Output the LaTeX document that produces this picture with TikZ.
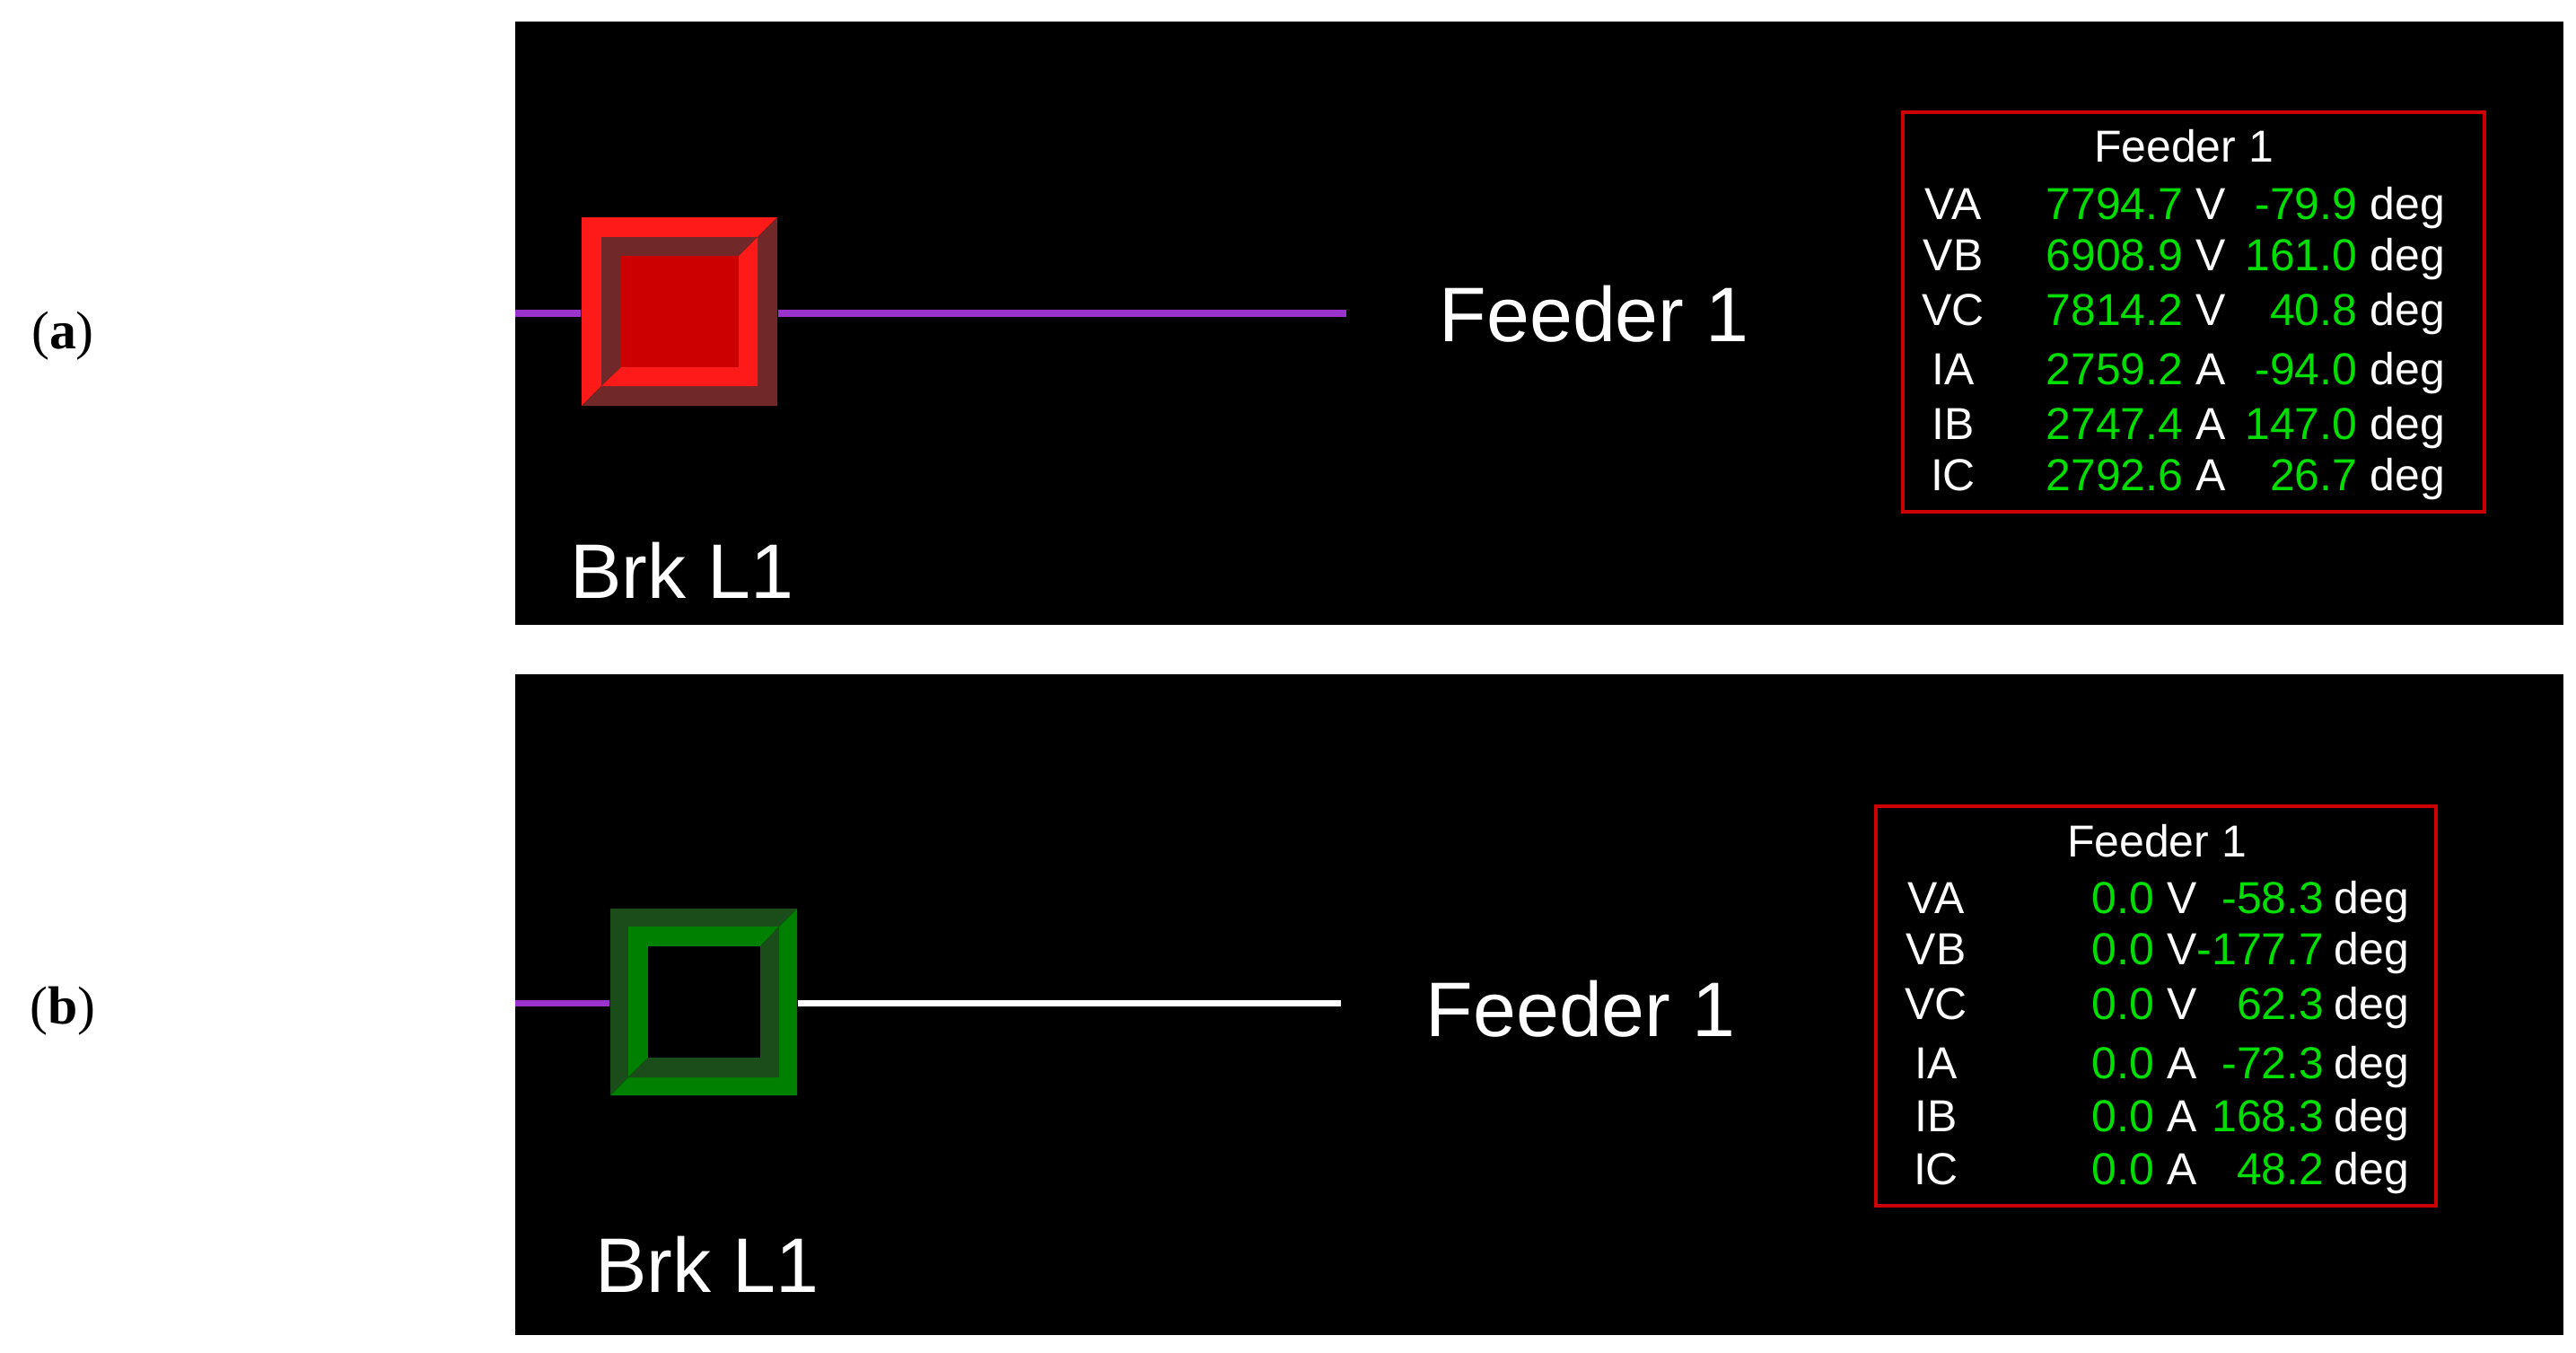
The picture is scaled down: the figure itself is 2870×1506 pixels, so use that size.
\documentclass[tikz,border=0pt]{standalone}
\usepackage{fontspec}
\setmainfont{Liberation Sans}
\newfontfamily\serifff{Liberation Serif}
\usetikzlibrary{calc}
\definecolor{purp}{HTML}{9933CC}
\definecolor{bred}{HTML}{FF1A1A}
\definecolor{dred}{HTML}{702828}
\definecolor{mred}{HTML}{CC0000}
\definecolor{bgrn}{HTML}{008000}
\definecolor{dgrn}{HTML}{1A4D1A}
\definecolor{vgrn}{HTML}{00DD00}
\begin{document}
\begin{tikzpicture}[x=0.01cm,y=-0.01cm,
  big/.style={text=white,font=\fontsize{24.5}{26}\selectfont,inner sep=0},
  tt/.style={font=\fontsize{14.2}{16}\selectfont,inner sep=0,text height=0.72em,text depth=0.2em,yshift=-2pt},
  lab/.style={tt,text=white},
  num/.style={tt,text=vgrn,anchor=east},
  unit/.style={tt,text=white,anchor=west},
  tbox/.style={draw=mred,line width=1.2pt},
  wire/.style={line width=2pt}]
\useasboundingbox (0,0) rectangle (2870,1506);
\fill[white] (0,0) rectangle (2870,1506);
\fill[black] (574,24) rectangle (2856,696);
\fill[black] (574,751) rectangle (2856,1487);
\node[font=\serifff\fontsize{17}{19}\selectfont] (la) at (70,374) {(\textbf{a})};
\node[font=\serifff\fontsize{17}{19}\selectfont] (lb) at (70,1126) {(\textbf{b})};

% ---------- panel a ----------
\coordinate (wa0) at (574,349);
\coordinate (wa1) at (1500,349);
\node[inner sep=0,minimum width=62pt,minimum height=59.7pt] (ba) at (757,347) {};
\draw[purp,wire] (wa0) -- (ba.west|-wa0);
\draw[purp,wire] (ba.east|-wa0) -- (wa1);
\fill[bred] (648,452) -- (648,242) -- (866,242) -- (844,264) -- (670,264) -- (670,430) -- cycle;
\fill[dred] (648,452) -- (866,452) -- (866,242) -- (844,264) -- (844,430) -- (670,430) -- cycle;
\fill[dred] (670,430) -- (670,264) -- (844,264) -- (823,285) -- (692,285) -- (692,409) -- cycle;
\fill[bred] (670,430) -- (844,430) -- (844,264) -- (823,285) -- (823,409) -- (692,409) -- cycle;
\fill[mred] (692,285) rectangle (823,409);
\node[big] (fa) at (1776,350) {Feeder 1};
\node[big] (brka) at (760,635) {Brk L1};
\draw[tbox] (2120,125) rectangle (2768,570);
\node[lab] (ta) at (2433,164) {Feeder 1};
\foreach \y/\l/\n/\u/\g in {228/VA/7794.7/V/-79.9, 285/VB/6908.9/V/161.0, 346/VC/7814.2/V/40.8, 412/IA/2759.2/A/-94.0, 473/IB/2747.4/A/147.0, 530/IC/2792.6/A/26.7}{
  \node[lab] at (2176,\y) {\l};
  \node[num] at (2433,\y) {\n};
  \node[unit] at (2446,\y) {\u};
  \node[num] at (2627,\y) {\g};
  \node[unit] at (2640,\y) {deg};
}

% ---------- panel b ----------
\coordinate (wb0) at (574,1117);
\coordinate (wb1) at (1494,1117);
\node[inner sep=0,minimum width=59.2pt,minimum height=59.2pt] (bb) at (784,1116) {};
\draw[purp,wire] (wb0) -- (bb.west|-wb0);
\draw[white,wire] (bb.east|-wb1) -- (wb1);
\fill[dgrn] (680,1220) -- (680,1012) -- (888,1012) -- (868,1032) -- (700,1032) -- (700,1200) -- cycle;
\fill[bgrn] (680,1220) -- (888,1220) -- (888,1012) -- (868,1032) -- (868,1200) -- (700,1200) -- cycle;
\fill[bgrn] (700,1200) -- (700,1032) -- (868,1032) -- (847,1054) -- (722,1054) -- (722,1178) -- cycle;
\fill[dgrn] (700,1200) -- (868,1200) -- (868,1032) -- (847,1054) -- (847,1178) -- (722,1178) -- cycle;
\fill[black] (722,1054) rectangle (847,1178);
\node[big] (fb) at (1761,1124) {Feeder 1};
\node[big] (brkb) at (788,1408) {Brk L1};
\draw[tbox] (2090,898) rectangle (2714,1343);
\node[lab] (tb) at (2403,938) {Feeder 1};
\foreach \y/\l/\n/\u/\g in {1001/VA/0.0/V/-58.3, 1058/VB/0.0/V/-177.7, 1119/VC/0.0/V/62.3, 1185/IA/0.0/A/-72.3, 1244/IB/0.0/A/168.3, 1303/IC/0.0/A/48.2}{
  \node[lab] at (2157,\y) {\l};
  \node[num] at (2401,\y) {\n};
  \node[unit] at (2414,\y) {\u};
  \node[num] at (2590,\y) {\g};
  \node[unit] at (2600,\y) {deg};
}
\end{tikzpicture}
\end{document}
